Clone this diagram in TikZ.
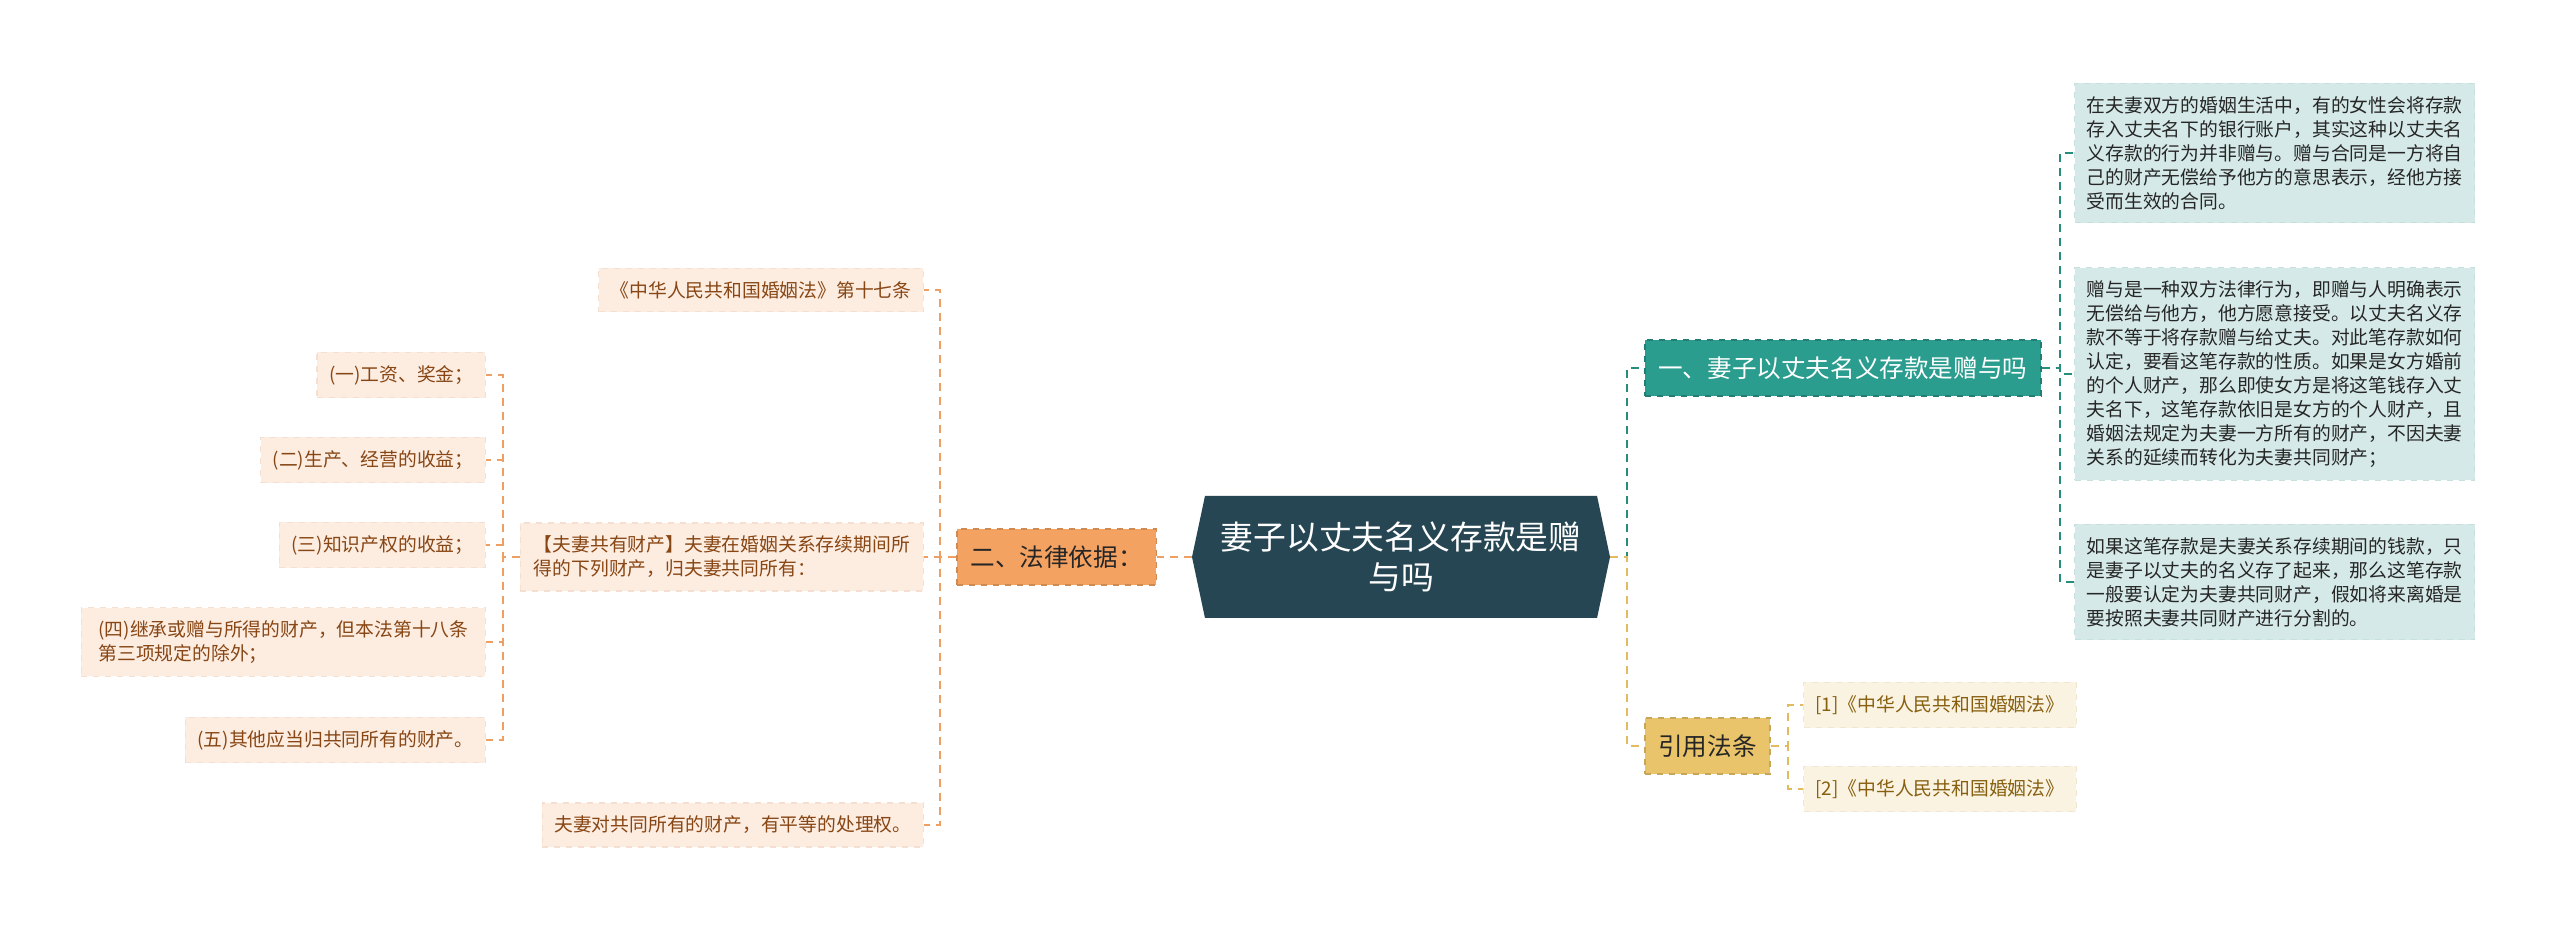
\documentclass[tikz,border=0pt]{standalone}
\usepackage{fontspec}
\newfontfamily\zhfont{Noto Sans CJK SC}
\usetikzlibrary{positioning, shapes.symbols}

\definecolor{rootbg}{RGB}{38,70,83}
\definecolor{lawbg}{RGB}{244,162,97}
\definecolor{lawline}{RGB}{238,160,100}
\definecolor{qbg}{RGB}{42,157,143}
\definecolor{qline}{RGB}{40,140,125}
\definecolor{citebg}{RGB}{233,196,106}
\definecolor{citeline}{RGB}{226,186,96}
\definecolor{lawleaf}{RGB}{253,236,224}
\definecolor{qleaf}{RGB}{213,234,232}
\definecolor{citeleaf}{RGB}{250,243,226}
\definecolor{lawtxt}{RGB}{135,70,20}
\definecolor{citetxt}{RGB}{135,95,15}

\begin{document}
\begin{tikzpicture}[
    x=0.5pt, y=-0.5pt,
    lnk/.style={dash pattern=on 4pt off 3pt, line width=1pt},
    root/.style={signal, signal to=east and west, signal pointer angle=156, fill=rootbg, text=white, minimum width=209pt, minimum height=61pt, align=center, font=\zhfont\fontsize{16.4}{20}\selectfont},
    topic/.style={rectangle, draw, dashed, line width=0.75pt, inner xsep=6.75pt, inner ysep=8.3pt, font=\zhfont\fontsize{12.3}{15}\selectfont},
    leaf/.style={rectangle, draw, dashed, line width=0.6pt, inner xsep=6pt, inner ysep=6.5pt, align=left, font=\zhfont\fontsize{9.4}{12}\selectfont},
    lleaf/.style={leaf, fill=lawleaf, draw=lawleaf!92!lawtxt, text=lawtxt, anchor=east},
    rleaf/.style={leaf, fill=qleaf, draw=qleaf!90!qline, text=black!85, anchor=west},
    cleaf/.style={leaf, fill=citeleaf, draw=citeleaf!92!citetxt, text=citetxt, anchor=west}
  ]
    \fill[white] (0,0) rectangle (2560,929);

    \node[root] (root) at (1401,557) {妻子以丈夫名义存款是赠\\与吗};
    \node[topic, fill=lawbg, draw=lawbg!85!black, text=black!85, anchor=east] (law) at (1157,557) {二、法律依据：};
    \node[topic, fill=qbg, draw=qbg!80!black, text=white, anchor=west] (q1) at (1644,368) {一、妻子以丈夫名义存款是赠与吗};
    \node[topic, fill=citebg, draw=citebg!85!black, text=black!85, anchor=west] (cite) at (1644,746) {引用法条};

    \node[lleaf] (art17) at (924,290) {《中华人民共和国婚姻法》第十七条};
    \node[lleaf, inner xsep=6.75pt] (joint) at (924,557) {【夫妻共有财产】夫妻在婚姻关系存续期间所\\得的下列财产，归夫妻共同所有：};
    \node[lleaf] (equal) at (924,825) {夫妻对共同所有的财产，有平等的处理权。};

    \node[lleaf] (i1) at (486,375) {(一)工资、奖金；};
    \node[lleaf] (i2) at (486,460) {(二)生产、经营的收益；};
    \node[lleaf] (i3) at (486,545) {(三)知识产权的收益；};
    \node[lleaf, inner xsep=8.5pt] (i4) at (486,642) {(四)继承或赠与所得的财产，但本法第十八条\\第三项规定的除外；};
    \node[lleaf] (i5) at (486,740) {(五)其他应当归共同所有的财产。};

    \node[rleaf] (p1) at (2074,153) {在夫妻双方的婚姻生活中，有的女性会将存款\\存入丈夫名下的银行账户，其实这种以丈夫名\\义存款的行为并非赠与。赠与合同是一方将自\\己的财产无偿给予他方的意思表示，经他方接\\受而生效的合同。};
    \node[rleaf] (p2) at (2074,374) {赠与是一种双方法律行为，即赠与人明确表示\\无偿给与他方，他方愿意接受。以丈夫名义存\\款不等于将存款赠与给丈夫。对此笔存款如何\\认定，要看这笔存款的性质。如果是女方婚前\\的个人财产，那么即使女方是将这笔钱存入丈\\夫名下，这笔存款依旧是女方的个人财产，且\\婚姻法规定为夫妻一方所有的财产，不因夫妻\\关系的延续而转化为夫妻共同财产；};
    \node[rleaf] (p3) at (2074,582) {如果这笔存款是夫妻关系存续期间的钱款，只\\是妻子以丈夫的名义存了起来，那么这笔存款\\一般要认定为夫妻共同财产，假如将来离婚是\\要按照夫妻共同财产进行分割的。};

    \node[cleaf] (r1) at (1803,705) {[1]《中华人民共和国婚姻法》};
    \node[cleaf] (r2) at (1803,789) {[2]《中华人民共和国婚姻法》};

    \draw[lnk, lawline] (root.west) -- (law.east);
    \foreach \n in {art17,joint,equal}
      \draw[lnk, lawline] (law.west) -- ++(-16,0) |- (\n.east);
    \foreach \n in {i1,i2,i3,i4,i5}
      \draw[lnk, lawline] (joint.west) -- ++(-17,0) |- (\n.east);

    \draw[lnk, qline] (root.east) -- ++(17,0) |- (q1.west);
    \draw[lnk, citeline] (root.east) -- ++(17,0) |- (cite.west);
    \foreach \n in {p1,p2,p3}
      \draw[lnk, qline] (q1.east) -- ++(18,0) |- (\n.west);
    \foreach \n in {r1,r2}
      \draw[lnk, citeline] (cite.east) -- ++(17,0) |- (\n.west);
\end{tikzpicture}
\end{document}
